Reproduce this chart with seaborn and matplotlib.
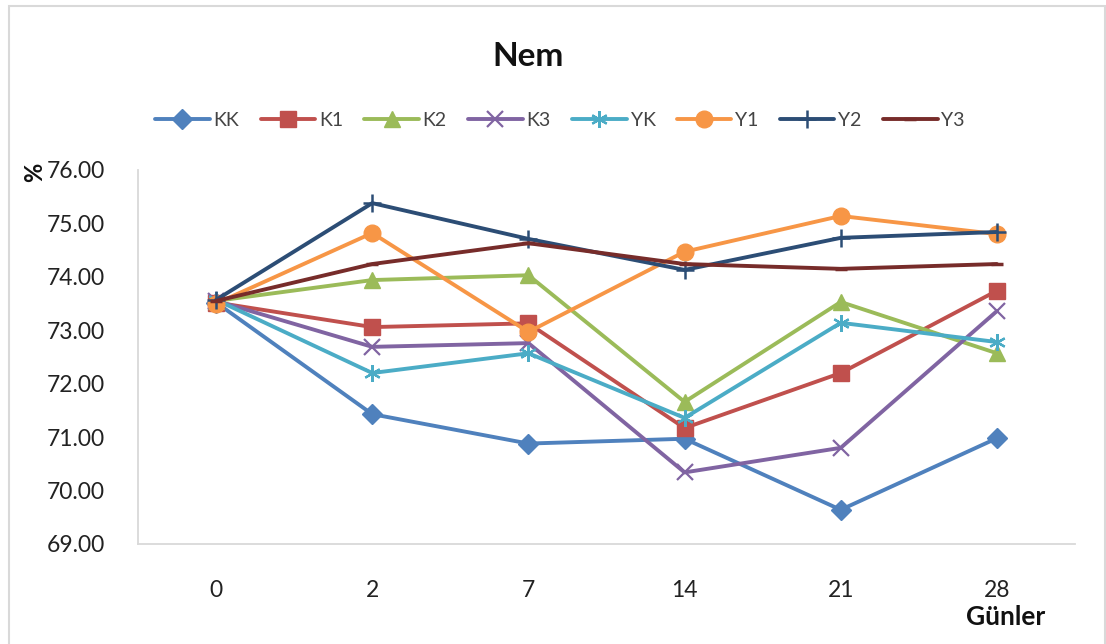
import matplotlib
matplotlib.use("Agg")
import matplotlib.pyplot as plt
from matplotlib.patches import Rectangle
import numpy as np
import pandas as pd
import seaborn as sns

# Sampling days and measured humidity (%) per treatment
days = ["0", "2", "7", "14", "21", "28"]
series_names = ["KK", "K1", "K2", "K3", "YK", "Y1", "Y2", "Y3"]
KK = [73.52, 71.43, 70.88, 70.97, 69.64, 70.98]
K1 = [73.52, 73.06, 73.13, 71.17, 72.20, 73.74]
K2 = [73.55, 73.94, 74.03, 71.66, 73.53, 72.57]
K3 = [73.55, 72.69, 72.76, 70.34, 70.80, 73.36]
YK = [73.57, 72.20, 72.57, 71.36, 73.14, 72.78]
Y1 = [73.50, 74.82, 72.97, 74.47, 75.14, 74.80]
Y2 = [73.57, 75.38, 74.71, 74.13, 74.73, 74.84]
Y3 = [73.55, 74.24, 74.63, 74.24, 74.15, 74.24]
values = [KK, K1, K2, K3, YK, Y1, Y2, Y3]

colors = ["#4F81BD", "#C0504D", "#9BBB59", "#8064A2", "#4BACC6",
          "#F79646", "#2C4D75", "#772C2A"]
markers = ["D", "s", "^", "x", (6, 2, 0), "o", "+", "_"]
msizes = [10, 11, 12, 11, 12, 12, 13, 9]
mews = [1, 1, 1, 1.6, 1.6, 1, 1.8, 2.5]

rows = []
for name, vals in zip(series_names, values):
    for i, (d, v) in enumerate(zip(days, vals)):
        rows.append({"series": name, "pos": i, "day": d, "value": v})
df = pd.DataFrame(rows)

sns.set_theme(style="white")
plt.rcParams["font.family"] = ["Lato", "DejaVu Sans"]

fig = plt.figure(figsize=(11.06, 6.44), dpi=100)
ax = fig.add_axes([138 / 1106, 1 - 544 / 644, (1075 - 138) / 1106, (544 - 170) / 644])

for name, c, m, ms, mew in zip(series_names, colors, markers, msizes, mews):
    sub = df[df["series"] == name]
    sns.lineplot(data=sub, x="pos", y="value", ax=ax, color=c, linewidth=2.8,
                 marker=m, markersize=ms, markeredgecolor=c, markerfacecolor=c,
                 markeredgewidth=mew, label=name, sort=False)

ax.set_xlim(-0.5, len(days) - 0.5)
ax.set_ylim(69, 76)
ax.set_xticks(range(len(days)))
ax.set_xticklabels(days)
ax.set_yticks(np.arange(69, 76.01, 1))
ax.set_yticklabels([f"{v:.2f}" for v in np.arange(69, 76.01, 1)])
ax.tick_params(axis="both", length=0, labelsize=16.5, colors="#222222")
ax.tick_params(axis="y", pad=24)
ax.tick_params(axis="x", pad=26)

for s in ["top", "right"]:
    ax.spines[s].set_visible(False)
for s in ["left", "bottom"]:
    ax.spines[s].set_color("#D9D9D9")
    ax.spines[s].set_linewidth(1.3)

ax.set_xlabel("")
ax.set_ylabel("")
fig.text(1006 / 1106, 1 - 617 / 644, "Günler", ha="center", va="center",
         fontsize=19, fontweight="bold", color="#111111")
fig.text(35 / 1106, 1 - 172 / 644, "%", ha="center", va="center", rotation=90,
         fontsize=17, fontweight="bold", color="#111111")
fig.text(528 / 1106, 1 - 56 / 644, "Nem", ha="center", va="center",
         fontsize=24, fontweight="bold", color="#111111")

ax.legend(loc="center", bbox_to_anchor=(560 / 1106, 1 - 120 / 644),
          bbox_transform=fig.transFigure, ncol=8, frameon=False,
          fontsize=14, handlelength=2.8, handletextpad=0.2, columnspacing=1.1,
          labelcolor="#444444")

fig.patches.append(Rectangle((9 / 1106, -0.01), (1105 - 9) / 1106, 1 - 6 / 644 + 0.01,
                             transform=fig.transFigure, fill=False,
                             edgecolor="#D9D9D9", linewidth=1.5))

fig.savefig("out.png", dpi=100)
